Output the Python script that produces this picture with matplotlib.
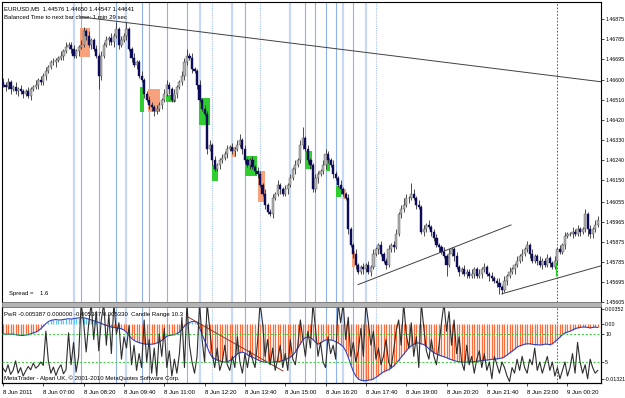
import matplotlib
matplotlib.use('Agg')
import matplotlib.pyplot as plt
from matplotlib.patches import Rectangle
import numpy as np

# ---- price data: M5 bars, pips above 1.4500 (8 Jun 2011 05:40 .. 9 Jun 01:20)
first_open = 159
closes = [
    158, 157, 159, 156, 157, 155, 156, 155, 154, 155,
    153, 156, 157, 158, 160, 159, 162, 164, 166, 168,
    168, 169, 170, 171, 173, 175, 176, 174, 171, 173,
    175, 176, 182, 180, 176, 178, 174, 171, 162, 171,
    176, 178, 179, 177, 180, 183, 176, 178, 180, 183,
    174, 170, 167, 168, 162, 160, 154, 151, 149, 148,
    146, 147, 149, 151, 154, 158, 156, 151, 154, 157,
    159, 162, 168, 171, 170, 165, 164, 158, 151, 147,
    145, 129, 131, 124, 120, 122, 124, 125, 127, 129,
    130, 128, 129, 131, 133, 129, 124, 122, 124, 121,
    119, 118, 113, 109, 104, 101, 100, 107, 109, 113,
    111, 109, 111, 113, 116, 120, 122, 124, 131, 134,
    129, 124, 122, 111, 116, 118, 119, 122, 127, 124,
    122, 118, 116, 113, 111, 109, 107, 93, 86, 82,
    77, 74, 76, 75, 77, 74, 76, 82, 84, 86,
    82, 79, 77, 84, 86, 85, 91, 100, 102, 104,
    107, 107, 109, 107, 104, 103, 92, 93, 95, 94,
    92, 89, 86, 85, 83, 81, 77, 82, 84, 81,
    76, 74, 75, 73, 74, 72, 73, 75, 72, 73,
    75, 76, 73, 72, 71, 70, 69, 67, 66, 70,
    72, 74, 75, 77, 79, 81, 82, 84, 86, 82,
    79, 81, 79, 77, 79, 77, 80, 78, 76, 79,
    84, 83, 86, 90, 91, 91, 92, 91, 93, 92,
    93, 100, 93, 91, 93, 95, 97,
]
upper_wick = [
    2, 1, 2, 1, 1, 2, 1, 2, 1, 1, 2, 1, 1, 2, 1, 2, 1, 2, 1, 1,
    2, 1, 1, 2, 1, 2, 1, 1, 2, 1, 1, 2, 2, 1, 2, 1, 1, 2, 1, 2,
    1, 2, 1, 2, 1, 3, 1, 2, 1, 3, 1, 1, 2, 1, 1, 2, 1, 1, 2, 1,
    1, 2, 1, 1, 2, 2, 1, 1, 2, 1, 1, 2, 2, 3, 1, 2, 1, 1, 2, 1,
    2, 1, 2, 1, 2, 1, 1, 2, 1, 2, 1, 2, 1, 2, 3, 1, 2, 1, 1, 2,
    1, 2, 1, 1, 2, 1, 1, 2, 1, 2, 1, 1, 2, 1, 2, 1, 2, 1, 2, 5,
    1, 2, 1, 1, 2, 1, 1, 2, 2, 1, 1, 2, 1, 1, 2, 1, 1, 2, 1, 1,
    2, 1, 1, 2, 1, 2, 1, 2, 1, 1, 2, 1, 1, 2, 1, 2, 2, 1, 2, 3,
    2, 1, 5, 2, 1, 2, 1, 2, 1, 2, 1, 1, 2, 1, 1, 2, 1, 2, 1, 1,
    2, 1, 1, 2, 1, 1, 2, 1, 1, 2, 1, 2, 1, 1, 2, 1, 1, 2, 1, 2,
    1, 2, 1, 1, 2, 1, 2, 1, 2, 1, 2, 1, 1, 2, 1, 1, 2, 1, 1, 2,
    1, 2, 1, 2, 1, 1, 2, 1, 2, 1, 1, 2, 1, 2, 1, 2, 2,
]
lower_wick = [
    1, 2, 1, 2, 1, 1, 2, 1, 2, 1, 1, 2, 1, 1, 2, 1, 1, 2, 1, 1,
    1, 2, 1, 1, 2, 1, 1, 2, 1, 1, 2, 1, 1, 2, 1, 2, 1, 1, 6, 2,
    1, 1, 2, 1, 2, 1, 2, 1, 1, 2, 1, 2, 1, 2, 1, 1, 2, 1, 2, 2,
    2, 1, 1, 2, 1, 1, 2, 1, 1, 2, 1, 1, 2, 1, 1, 2, 1, 2, 1, 1,
    1, 2, 1, 2, 1, 1, 2, 1, 1, 2, 1, 1, 2, 1, 1, 2, 1, 1, 2, 1,
    1, 2, 1, 1, 2, 1, 1, 2, 1, 1, 2, 1, 1, 2, 1, 1, 2, 1, 1, 2,
    1, 1, 2, 1, 1, 2, 1, 1, 2, 1, 1, 2, 1, 1, 2, 1, 1, 2, 1, 2,
    2, 1, 1, 2, 1, 1, 2, 1, 1, 2, 1, 1, 2, 1, 1, 2, 1, 1, 2, 1,
    1, 2, 1, 1, 2, 1, 1, 2, 1, 1, 2, 1, 1, 2, 1, 1, 5, 1, 1, 2,
    1, 2, 1, 1, 2, 1, 1, 2, 1, 1, 2, 1, 1, 2, 1, 1, 2, 3, 2, 1,
    2, 1, 1, 2, 1, 1, 2, 1, 1, 2, 1, 1, 2, 1, 2, 1, 1, 2, 1, 1,
    2, 1, 1, 2, 1, 1, 2, 1, 1, 2, 1, 1, 3, 2, 2, 1, 1,
]

# ---- indicator: PwR (x 1e-3) and candle range
pwr = [
    -2.5, -2.5, -2.5, -2.5, -2.5, -2.6, -2.7, -2.8, -2.8, -2.7,
    -2.6, -2.4, -2.2, -2.0, -1.7, -1.2, -0.6, 0.0, 0.5, 0.8,
    0.9, 1.0, 0.9, 0.9, 1.0, 1.1, 1.2, 1.1, 1.2, 1.3,
    1.4, 1.4, 1.4, 1.3, 1.1, 0.9, 0.7, 0.5, 0.3, 0.1,
    -0.2, -0.4, -0.6, -0.8, -0.9, -1.0, -1.1, -1.2, -1.5, -2.0,
    -2.8, -3.5, -4.0, -4.3, -4.5, -4.7, -4.8, -4.9, -4.9, -4.9,
    -4.8, -4.6, -4.4, -4.0, -3.5, -3.0, -2.8, -2.7, -2.6, -2.4,
    -2.0, -1.3, -0.6, 0.0, 0.3, 0.5, 0.5, 0.4, -1.0, -2.5,
    -4.0, -5.5, -7.0, -8.0, -8.4, -8.7, -8.9, -9.1, -9.2, -9.1,
    -8.8, -8.4, -7.8, -7.2, -6.9, -6.8, -7.0, -7.4, -7.8, -8.0,
    -8.3, -8.6, -8.9, -9.1, -9.2, -9.3, -9.3, -9.2, -9.1, -9.1,
    -9.0, -8.8, -8.6, -8.3, -8.0, -7.5, -6.8, -5.8, -4.8, -3.8,
    -3.3, -3.2, -3.3, -3.8, -4.4, -4.9, -4.6, -4.2, -3.9, -3.8,
    -3.9, -4.0, -4.3, -4.6, -5.0, -5.5, -6.5, -8.0, -9.8, -11.4,
    -12.5, -13.2, -13.5, -13.6, -13.6, -13.5, -13.4, -13.2, -12.8, -12.4,
    -11.9, -11.5, -11.2, -11.0, -10.6, -10.1, -9.5, -8.8, -8.0, -7.3,
    -6.5, -5.8, -5.3, -4.9, -4.6, -4.6, -4.8, -5.0, -5.4, -6.0,
    -6.5, -6.9, -7.2, -7.5, -7.7, -7.9, -8.1, -8.4, -8.6, -8.8,
    -9.0, -9.1, -9.2, -9.2, -9.2, -9.2, -9.1, -9.1, -9.0, -8.9,
    -8.8, -8.7, -8.7, -8.6, -8.5, -8.5, -8.4, -8.3, -8.2, -7.9,
    -7.5, -7.0, -6.6, -6.1, -5.6, -5.3, -5.1, -4.9, -4.8, -4.8,
    -4.9, -5.0, -5.0, -5.1, -5.0, -4.9, -4.9, -5.0, -4.8, -4.3,
    -3.8, -3.2, -2.6, -2.2, -2.0, -1.8, -1.5, -1.2, -1.0, -0.9,
    -0.8, -0.8, -0.9, -1.0, -0.9, -0.8, -0.9,
]
candle_range = [
    3.9, 3.2, 4.5, 2.8, 3.5, 5.2, 3.0, 4.0, 2.5, 3.4,
    4.2, 3.6, 4.8, 3.9, 4.3, 5.0, 4.4, 10.5, 5.2, 3.0,
    4.1, 2.6, 3.8, 4.5, 2.9, 3.6, 10.2, 4.5, 8.5, 3.2,
    6.0, 15.5, 12.0, 6.8, 11.8, 15.5, 9.0, 14.0, 7.0, 12.5,
    15.5, 8.0, 13.5, 6.5, 15.5, 10.0, 12.0, 5.5, 9.5, 7.5,
    11.5, 4.5, 8.0, 3.5, 6.5, 4.0, 12.5, 5.0, 9.0, 3.0,
    7.5, 2.5, 10.0, 6.0, 11.0, 4.0, 7.0, 2.5, 5.5, 3.0,
    6.5, 13.0, 4.0, 15.5, 8.0, 5.0, 3.0, 6.0, 15.5, 9.0,
    5.0, 15.5, 11.0, 6.5, 4.0, 7.5, 3.5, 5.0, 8.0, 4.5,
    3.5, 6.0, 4.0, 9.5, 5.0, 3.0, 6.5, 4.0, 7.0, 5.5,
    4.0, 8.5, 15.5, 12.0, 6.0, 9.0, 4.5, 7.5, 3.5, 5.5,
    8.0, 4.0, 6.5, 3.5, 9.0, 5.5, 4.5, 8.0, 12.5, 9.0,
    6.0, 10.5, 7.5, 15.5, 11.0, 6.0, 8.5, 5.0, 4.0, 9.5,
    6.5, 8.0, 5.5, 15.5, 12.0, 15.5, 9.0, 13.0, 6.0, 8.5,
    5.0, 7.0, 11.0, 6.0, 15.5, 12.0, 8.0, 10.5, 5.5, 7.5,
    4.5, 6.0, 9.0, 5.0, 4.0, 7.0, 10.5, 12.5, 8.0, 15.5,
    10.0, 7.5, 12.0, 6.0, 9.5, 4.0, 15.5, 11.0, 7.0, 5.5,
    9.0, 6.0, 4.5, 8.0, 12.0, 15.5, 10.5, 14.0, 8.0, 12.5,
    6.5, 9.5, 5.0, 3.5, 8.0, 4.5, 6.0, 3.0, 5.5, 7.0,
    4.0, 6.5, 3.5, 5.0, 2.0, 6.0, 4.5, 3.0, 5.0, 4.0,
    2.5, 1.5, 4.0, 3.0, 5.5, 3.5, 6.0, 4.0, 3.0, 5.5,
    4.5, 7.5, 3.5, 5.0, 3.0, 4.5, 6.0, 3.5, 5.0, 2.5,
    4.0, 2.0, 3.5, 5.0, 2.5, 4.0, 6.5, 3.0, 8.5, 5.0,
    3.0, 4.5, 2.0, 5.5, 4.0, 3.0, 3.5,
]

# ---- annotations
time_ticks = [0, 16, 32, 48, 64, 80, 96, 112, 128, 144, 160, 176, 192, 208, 224]
time_labels = ['8 Jun 2011', '8 Jun 07:00', '8 Jun 08:20', '8 Jun 09:40', '8 Jun 11:00',
               '8 Jun 12:20', '8 Jun 13:40', '8 Jun 15:00', '8 Jun 16:20', '8 Jun 17:40',
               '8 Jun 19:00', '8 Jun 20:20', '8 Jun 21:40', '8 Jun 23:00', '9 Jun 00:20']
price_ticks = ['1.46875', '1.46785', '1.46695', '1.46600', '1.46510', '1.46420', '1.46330',
               '1.46240', '1.46150', '1.46055', '1.45965', '1.45875', '1.45785', '1.45695',
               '1.45605']

event_bars = [28, 31, 38, 45, 49, 55, 58, 65, 73, 78, 83, 91, 96, 102, 114, 120, 124,
              128, 132, 135, 139, 144, 148]
event_kind = ['pale', 'mid', 'mid', 'mid', 'pale', 'mid', 'mid', 'mid', 'mid', 'pale',
              'dot', 'pale', 'mid', 'dot', 'pale', 'mid', 'mid', 'mid', 'mid', 'pale',
              'mid', 'pale', 'dot']
day_sep = 220

# zones: start bar, end bar, top pips, bottom pips, kind
zone_start = [30.5, 54.4, 57.5, 64.7, 77.8, 83.0, 91.0, 96.0, 101.2, 119.8, 128.2, 132.0, 135.0, 138.5]
zone_end = [34.5, 56.0, 62.3, 68.7, 82.1, 85.3, 92.5, 100.8, 104.0, 122.6, 129.8, 134.0, 136.3, 139.7]
zone_top = [183.5, 157, 156, 153.5, 152, 122, 130, 125.8, 119, 128, 125, 112.4, 111, 83.4]
zone_bot = [170.5, 145.5, 145.5, 150, 140, 114.6, 125.4, 117, 105.3, 120, 119, 107.5, 106.6, 76.2]
zone_kind = ['s', 'g', 's', 'g', 'g', 'g', 's', 'g', 's', 'g', 'g', 'g', 's', 's']

# trend lines (bar, pips)
trend_a = [(31, 188.4), (240, 158.9)]
trend_b = [(140.9, 68.2), (201.6, 95.0)]
trend_c = [(198, 64.1), (240, 77.5)]
ind_trend = [(73.4, 1.6), (111.1, -11.3)]   # PwR x 1e-3
signal_bar, signal_top, signal_bot = 219.6, 78.5, 72.0

base = 1.45
W, H = 625, 398
fig = plt.figure(figsize=(W / 100, H / 100), dpi=100)
fig.patch.set_facecolor('white')
plt.rcParams['font.family'] = ['Liberation Sans', 'DejaVu Sans']
fs = 4.3
fs_ax = 3.8

n = len(closes)
idx = np.arange(n)
c = base + np.array(closes) / 1e4
o = base + np.array([first_open] + closes[:-1]) / 1e4
hi = np.maximum(o, c) + np.array(upper_wick) / 1e4
lo = np.minimum(o, c) - np.array(lower_wick) / 1e4
xlim = (-0.4, 237.3)

ax = fig.add_axes([2 / W, 1 - 302 / H, 599 / W, 300 / H])
axi = fig.add_axes([2 / W, 1 - 383 / H, 599 / W, 76 / H])
axr = axi.twinx()

for a in (ax, axi):
    for b, k in zip(event_bars, event_kind):
        if k == 'pale':
            a.axvline(b, color='#c6d8f6', lw=1.6, zorder=1)
        elif k == 'mid':
            a.axvline(b, color='#8fb2ec', lw=0.8, zorder=1)
        else:
            a.axvline(b, color='#a9c3f0', lw=0.8, ls=(0, (1, 1)), zorder=1)
    a.axvline(day_sep, color='#404040', lw=0.6, ls=(0, (2, 2)), zorder=1)

# zones
for s, e, t, bt, k in zip(zone_start, zone_end, zone_top, zone_bot, zone_kind):
    col = '#f7a27c' if k == 's' else '#2fcd2f'
    ax.add_patch(Rectangle((s, base + bt / 1e4), e - s, (t - bt) / 1e4,
                           facecolor=col, edgecolor='none', zorder=2))

# candles
bull = c >= o
ax.vlines(idx, lo, hi, color='#303030', lw=0.6, zorder=3)
ax.bar(idx[bull], (c - o)[bull], bottom=o[bull], width=0.85, color='#b4b4b4',
       edgecolor='#505050', lw=0.3, zorder=4)
ax.bar(idx[~bull], (c - o)[~bull], bottom=o[~bull], width=0.85, color='#0c0c58',
       edgecolor='#0c0c58', lw=0.3, zorder=4)
ax.vlines(signal_bar, base + signal_bot / 1e4, base + signal_top / 1e4, color='#22cc22', lw=0.9, zorder=5)

for line in (trend_a, trend_b, trend_c):
    (x0, y0), (x1, y1) = line
    ax.plot([x0, x1], [base + y0 / 1e4, base + y1 / 1e4], color='#404040', lw=0.7, zorder=5)

ax.set_xlim(*xlim)
ax.set_ylim(base + 60.4 / 1e4, base + 195.1 / 1e4)
ax.yaxis.tick_right()
ax.set_yticks([float(t) for t in price_ticks])
ax.set_yticklabels(price_ticks, fontsize=fs_ax)
ax.tick_params(axis='y', length=2, width=0.5, pad=1, colors='black')
ax.set_xticks([])
for sp in ('left', 'top', 'right'):
    ax.spines[sp].set_linewidth(0.8)
ax.spines['bottom'].set_visible(False)

ax.text(0.004, 0.985, 'EURUSD,M5  1.44576 1.44650 1.44547 1.44641', transform=ax.transAxes,
        fontsize=fs, va='top', ha='left')
ax.text(0.004, 0.957, 'Balanced Time to next bar close: 1 min 29 sec', transform=ax.transAxes,
        fontsize=fs, va='top', ha='left')
ax.text(0.011, 0.03, 'Spread =    1.6', transform=ax.transAxes, fontsize=fs, va='center', ha='left')

# ---- indicator pane
pv = np.array(pwr) / 1e3
cols = np.where(pv >= 0, '#5cc6f2', '#ff6a3a')
axi.vlines(idx, 0, pv, colors=cols, lw=0.9, zorder=2)
axi.plot(idx, pv, color='#2e45c0', lw=0.8, zorder=4)
(x0, y0), (x1, y1) = ind_trend
axi.plot([x0, x1], [y0 / 1e3, y1 / 1e3], color='#8a3a2a', lw=0.7, zorder=4)
axi.set_xlim(*xlim)
axi.set_ylim(-0.01417, 0.00399)
axi.yaxis.tick_right()
axi.set_yticks([0.00352, 0.0, -0.01321])
axi.set_yticklabels(['0.00352', '0.00', '-0.01321'], fontsize=fs_ax)
axi.tick_params(axis='y', length=2, width=0.5, pad=1, left=False, labelleft=False,
                right=True, labelright=True)

axr.set_xlim(*xlim)
axr.set_ylim(1.25, 14.82)
axr.axhline(10, color='#33cc33', lw=0.7, ls=(0, (2, 2)), zorder=3)
axr.axhline(5, color='#33cc33', lw=0.7, ls=(0, (2, 2)), zorder=3)
axr.plot(idx, candle_range, color='#2e2e2e', lw=0.8, zorder=5)
axr.set_yticks([10, 5])
axr.set_yticklabels(['10', '5'], fontsize=fs_ax)
axr.tick_params(axis='y', length=2, width=0.5, pad=1)

axi.set_xticks(time_ticks)
axi.set_xticklabels(time_labels, fontsize=fs, ha='left')
axi.tick_params(axis='x', length=2.5, width=0.5, pad=2.5)
for a in (axi, axr):
    a.spines['top'].set_visible(False)
    for sp in ('left', 'right', 'bottom'):
        a.spines[sp].set_linewidth(0.8)

axi.text(0.004, 0.94, 'PwR -0.005387 0.000000 -0.005387 0.005330  Candle Range 10.3',
         transform=axi.transAxes, fontsize=fs, va='top', ha='left', zorder=6)
axi.text(0.004, 0.02, 'MetaTrader - Alpari UK, \u00a9 2001-2010 MetaQuotes Software Corp.',
         transform=axi.transAxes, fontsize=fs, va='bottom', ha='left', zorder=6)

# separator band between panes
fig.add_artist(Rectangle((2 / W, 1 - 307 / H), 599 / W, 5 / H, transform=fig.transFigure,
                         facecolor='#b4b4b4', edgecolor='#5a5a5a', lw=0.5))

fig.savefig('out.png', dpi=100)
